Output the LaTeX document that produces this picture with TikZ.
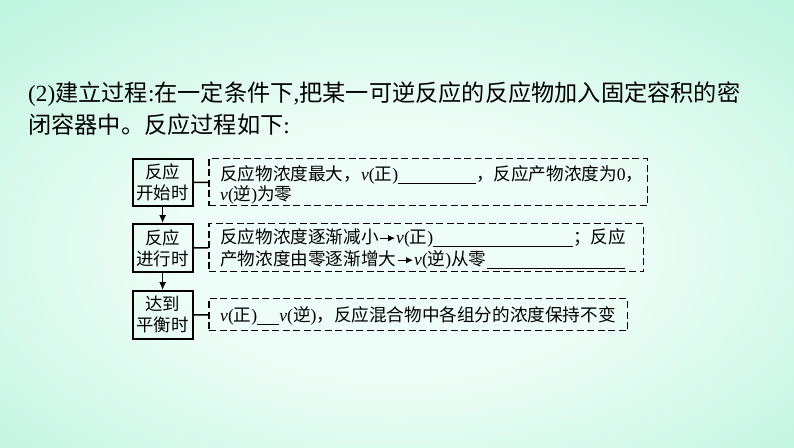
\documentclass[tikz,border=0pt]{standalone}
\usepackage{fontspec}
\setmainfont{Noto Sans CJK SC}
\newfontfamily\lat{Liberation Serif}
\usetikzlibrary{arrows.meta}
\definecolor{bgin}{RGB}{238,253,247}
\definecolor{bgmid}{RGB}{192,245,226}
\definecolor{bgout}{RGB}{125,232,200}
\pgfdeclareradialshading{bgshade}{\pgfpoint{0bp}{-4bp}}{color(0bp)=(bgin); color(14bp)=(bgin); color(36bp)=(bgmid); color(58bp)=(bgout); color(75bp)=(bgout)}
\newcommand\lv{{\lat\itshape v}}
\newcommand\lp[1]{{\lat(}#1{\lat)}}
\newcommand\blank[1]{\rule[-2.5pt]{#1pt}{0.7pt}}
\tikzset{
  titletext/.style={anchor=base west, inner sep=0pt, font=\fontsize{23.2}{28}\selectfont},
  boxtext/.style={anchor=base west, inner sep=0pt, font=\fontsize{17.6}{20}\selectfont},
  sbox/.style={draw, line width=1.8pt, anchor=north west, inner sep=0pt, align=center,
    minimum width=60pt, font=\fontsize{17.4}{21}\selectfont},
  dbox/.style={draw, line width=1.4pt, dash pattern=on 7pt off 3.5pt, anchor=north west, inner sep=0pt},
  flow/.style={line width=1.3pt, -{Latex[length=8pt,width=7pt]}},
  link/.style={line width=1.3pt},
  tarrow/.style={line width=1pt, -{Latex[length=7pt,width=6.5pt]}, shorten >=1pt}
}
\begin{document}
\begin{tikzpicture}[x=1pt,y=-1pt]
\useasboundingbox (0,0) rectangle (794,447);
\shade[shading=bgshade] (0,0) rectangle (794,447);
% title
\node[titletext] (title1) at (28,101.5) {{\lat (2)}建立过程{\lat :}在一定条件下{\lat ,}把某一可逆反应的反应物加入固定容积的密};
\node[titletext] (title2) at (28,133.5) {闭容器中。反应过程如下{\lat :}};
% left solid boxes
\node[sbox, minimum height=47pt] (s1) at (131.7,158) {反应\\开始时};
\node[sbox, minimum height=48pt] (s2) at (131.7,223) {反应\\进行时};
\node[sbox, minimum height=48pt] (s3) at (131.7,290) {达到\\平衡时};
% dashed boxes
\node[dbox, minimum width=438.4pt, minimum height=47pt] (d1) at (208.3,158) {};
\node[dbox, minimum width=434.4pt, minimum height=48pt] (d2) at (208.3,223) {};
\node[dbox, minimum width=418.4pt, minimum height=32pt] (d3) at (208.3,298) {};
% connectors
\draw[flow] (s1) -- (s2);
\draw[flow] (s2) -- (s3);
\draw[link] (s1) -- (d1);
\draw[link] (s2) -- (d2);
\draw[link] (s3) -- (d3);
% box 1 text
\node[boxtext] (t1a) at (220,180.7) {反应物浓度最大，\lv\lp{正}\blank{78}，反应产物浓度为{\lat 0}，};
\node[boxtext] (t1b) at (220,200.7) {\lv\lp{逆}为零};
% box 2 text
\node[boxtext] (t2a) at (220,243.7) {反应物浓度逐渐减小};
\node[boxtext] (t2b) at (396,243.7) {\lv\lp{正}\blank{140}；反应};
\node[boxtext] (t2c) at (220,265.7) {产物浓度由零逐渐增大};
\node[boxtext] (t2d) at (414,265.7) {\lv\lp{逆}从零\blank{138}};
\draw[tarrow] ([yshift=5.5pt,xshift=1pt]t2a.base east) -- ([yshift=5.5pt]t2b.base west);
\draw[tarrow] ([yshift=5.5pt,xshift=2pt]t2c.base east) -- ([yshift=5.5pt]t2d.base west);
% box 3 text
\node[boxtext] (t3) at (220,321.7) {\lv\lp{正}\blank{22}\lv\lp{逆}，反应混合物中各组分的浓度保持不变};
\end{tikzpicture}
\end{document}
